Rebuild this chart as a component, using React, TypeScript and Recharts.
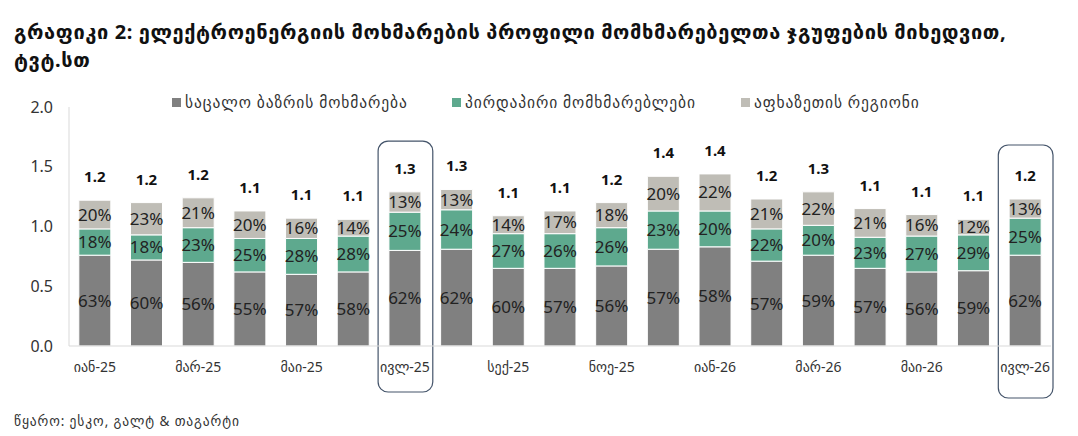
import React from "react";
import { Bar, BarChart, LabelList, ReferenceArea, XAxis, YAxis } from "recharts";

document.body.style.margin = "0";

const months = [
  "იან-25", "თებ-25", "მარ-25", "აპრ-25", "მაი-25", "ივნ-25", "ივლ-25", "აგვ-25", "სექ-25", "ოქტ-25",
  "ნოე-25", "დეკ-25", "იან-26", "თებ-26", "მარ-26", "აპრ-26", "მაი-26", "ივნ-26", "ივლ-26",
];

// TWh
const retail = [0.76, 0.72, 0.70, 0.62, 0.60, 0.62, 0.80, 0.81, 0.65, 0.65, 0.67, 0.81, 0.83, 0.71, 0.76, 0.65, 0.62, 0.63, 0.76];
const direct = [0.22, 0.21, 0.29, 0.28, 0.30, 0.30, 0.32, 0.33, 0.29, 0.29, 0.32, 0.32, 0.30, 0.27, 0.25, 0.26, 0.30, 0.30, 0.31];
const abkhazia = [0.24, 0.27, 0.25, 0.23, 0.17, 0.14, 0.17, 0.17, 0.15, 0.19, 0.21, 0.29, 0.31, 0.25, 0.28, 0.24, 0.18, 0.13, 0.16];

const retailPct = [63, 60, 56, 55, 57, 58, 62, 62, 60, 57, 56, 57, 58, 57, 59, 57, 56, 59, 62];
const directPct = [18, 18, 23, 25, 28, 28, 25, 24, 27, 26, 26, 23, 20, 22, 20, 23, 27, 29, 25];
const abkhaziaPct = [20, 23, 21, 20, 16, 14, 13, 13, 14, 17, 18, 20, 22, 21, 22, 21, 16, 12, 13];
const totals = ["1.2", "1.2", "1.2", "1.1", "1.1", "1.1", "1.3", "1.3", "1.1", "1.1", "1.2", "1.4", "1.4", "1.2", "1.3", "1.1", "1.1", "1.1", "1.2"];

const yTicks = [0, 0.5, 1, 1.5, 2];

const seriesNames = ["საცალო ბაზრის მოხმარება", "პირდაპირი მომხმარებლები", "აფხაზეთის რეგიონი"];
const COLORS = ["#808080", "#5ea98e", "#bfbdb6"];

// boxes drawn round two of the months
const HIGHLIGHTS = [
  { x: "ივლ-25", y1: -0.385, y2: 1.715 },
  { x: "ივლ-26", y1: -0.435, y2: 1.682 },
];

const FONT = "'Noto Sans', 'DejaVu Sans', sans-serif";
const LEGEND_LEFT = [172, 452, 741];

const data = months.map((m, i) => ({
  month: m,
  retail: retail[i],
  direct: direct[i],
  abkhazia: abkhazia[i],
  retailPct: `${retailPct[i]}%`,
  directPct: `${directPct[i]}%`,
  abkhaziaPct: `${abkhaziaPct[i]}%`,
  total: totals[i],
}));

function LegendRow() {
  return (
    <>
      {seriesNames.map((name, i) => (
        <div
          key={name}
          style={{
            position: "absolute",
            left: LEGEND_LEFT[i],
            top: 91,
            display: "flex",
            alignItems: "center",
            gap: 4,
            fontSize: 15.5,
            letterSpacing: 0.9,
            color: "#333",
            whiteSpace: "nowrap",
          }}
        >
          <span style={{ width: 9, height: 9, background: COLORS[i], display: "inline-block" }} />
          <span>{name}</span>
        </div>
      ))}
    </>
  );
}

function HighlightBox(props: any) {
  const { x, y, width, height } = props;
  return <rect x={x - 1} y={y} width={width + 3} height={height} rx={10} ry={10} fill="none" stroke="#44546a" strokeWidth={1.2} />;
}

export default function App() {
  return (
    <div style={{ position: "relative", width: 1078, height: 436, background: "#fff", fontFamily: FONT }}>
      <div
        style={{
          position: "absolute",
          left: 14,
          top: 18,
          fontSize: 20,
          letterSpacing: 0.6,
          fontWeight: 700,
          lineHeight: "28px",
          color: "#111",
          width: 1060,
          whiteSpace: "nowrap",
        }}
      >
        გრაფიკი 2: ელექტროენერგიის მოხმარების პროფილი მომხმარებელთა ჯგუფების მიხედვით,
        <br />
        ტვტ.სთ
      </div>
      <BarChart
        width={1078}
        height={436}
        data={data}
        margin={{ top: 107, right: 27, left: 19, bottom: 60 }}
        barCategoryGap="19%"
        style={{ position: "absolute", left: 0, top: 0 }}
      >
        <XAxis
          dataKey="month"
          interval={1}
          height={30}
          tickLine={false}
          tickSize={0}
          tickMargin={16}
          axisLine={{ stroke: "#d9d9d9" }}
          tick={{ fontSize: 14, fill: "#333", fontFamily: FONT }}
        />
        <YAxis
          domain={[0, 2]}
          ticks={yTicks}
          width={50}
          tickLine={false}
          tickSize={0}
          tickMargin={16}
          axisLine={{ stroke: "#d9d9d9" }}
          tickFormatter={(v: number) => v.toFixed(1)}
          tick={{ fontSize: 16, fill: "#333", fontFamily: FONT }}
        />
        <Bar dataKey="retail" stackId="a" fill={COLORS[0]} stroke="#fff" strokeWidth={1} isAnimationActive={false}>
          <LabelList dataKey="retailPct" position="center" fill="#222" fontSize={17} fontFamily={FONT} />
        </Bar>
        <Bar dataKey="direct" stackId="a" fill={COLORS[1]} stroke="#fff" strokeWidth={1} isAnimationActive={false}>
          <LabelList dataKey="directPct" position="center" fill="#222" fontSize={17} fontFamily={FONT} />
        </Bar>
        <Bar dataKey="abkhazia" stackId="a" fill={COLORS[2]} stroke="#fff" strokeWidth={1} isAnimationActive={false}>
          <LabelList dataKey="abkhaziaPct" position="center" fill="#222" fontSize={17} fontFamily={FONT} />
          <LabelList dataKey="total" position="top" offset={18} fill="#111" fontSize={15} fontWeight={700} fontFamily={FONT} />
        </Bar>
        {HIGHLIGHTS.map((h) => (
          <ReferenceArea key={h.x} x1={h.x} x2={h.x} y1={h.y1} y2={h.y2} ifOverflow="visible" shape={HighlightBox} />
        ))}
      </BarChart>
      <LegendRow />
      <div style={{ position: "absolute", left: 14, top: 412, fontSize: 13.5, letterSpacing: 0.9, color: "#333", whiteSpace: "nowrap" }}>
        წყარო: ესკო, გალტ &amp; თაგარტი
      </div>
    </div>
  );
}
